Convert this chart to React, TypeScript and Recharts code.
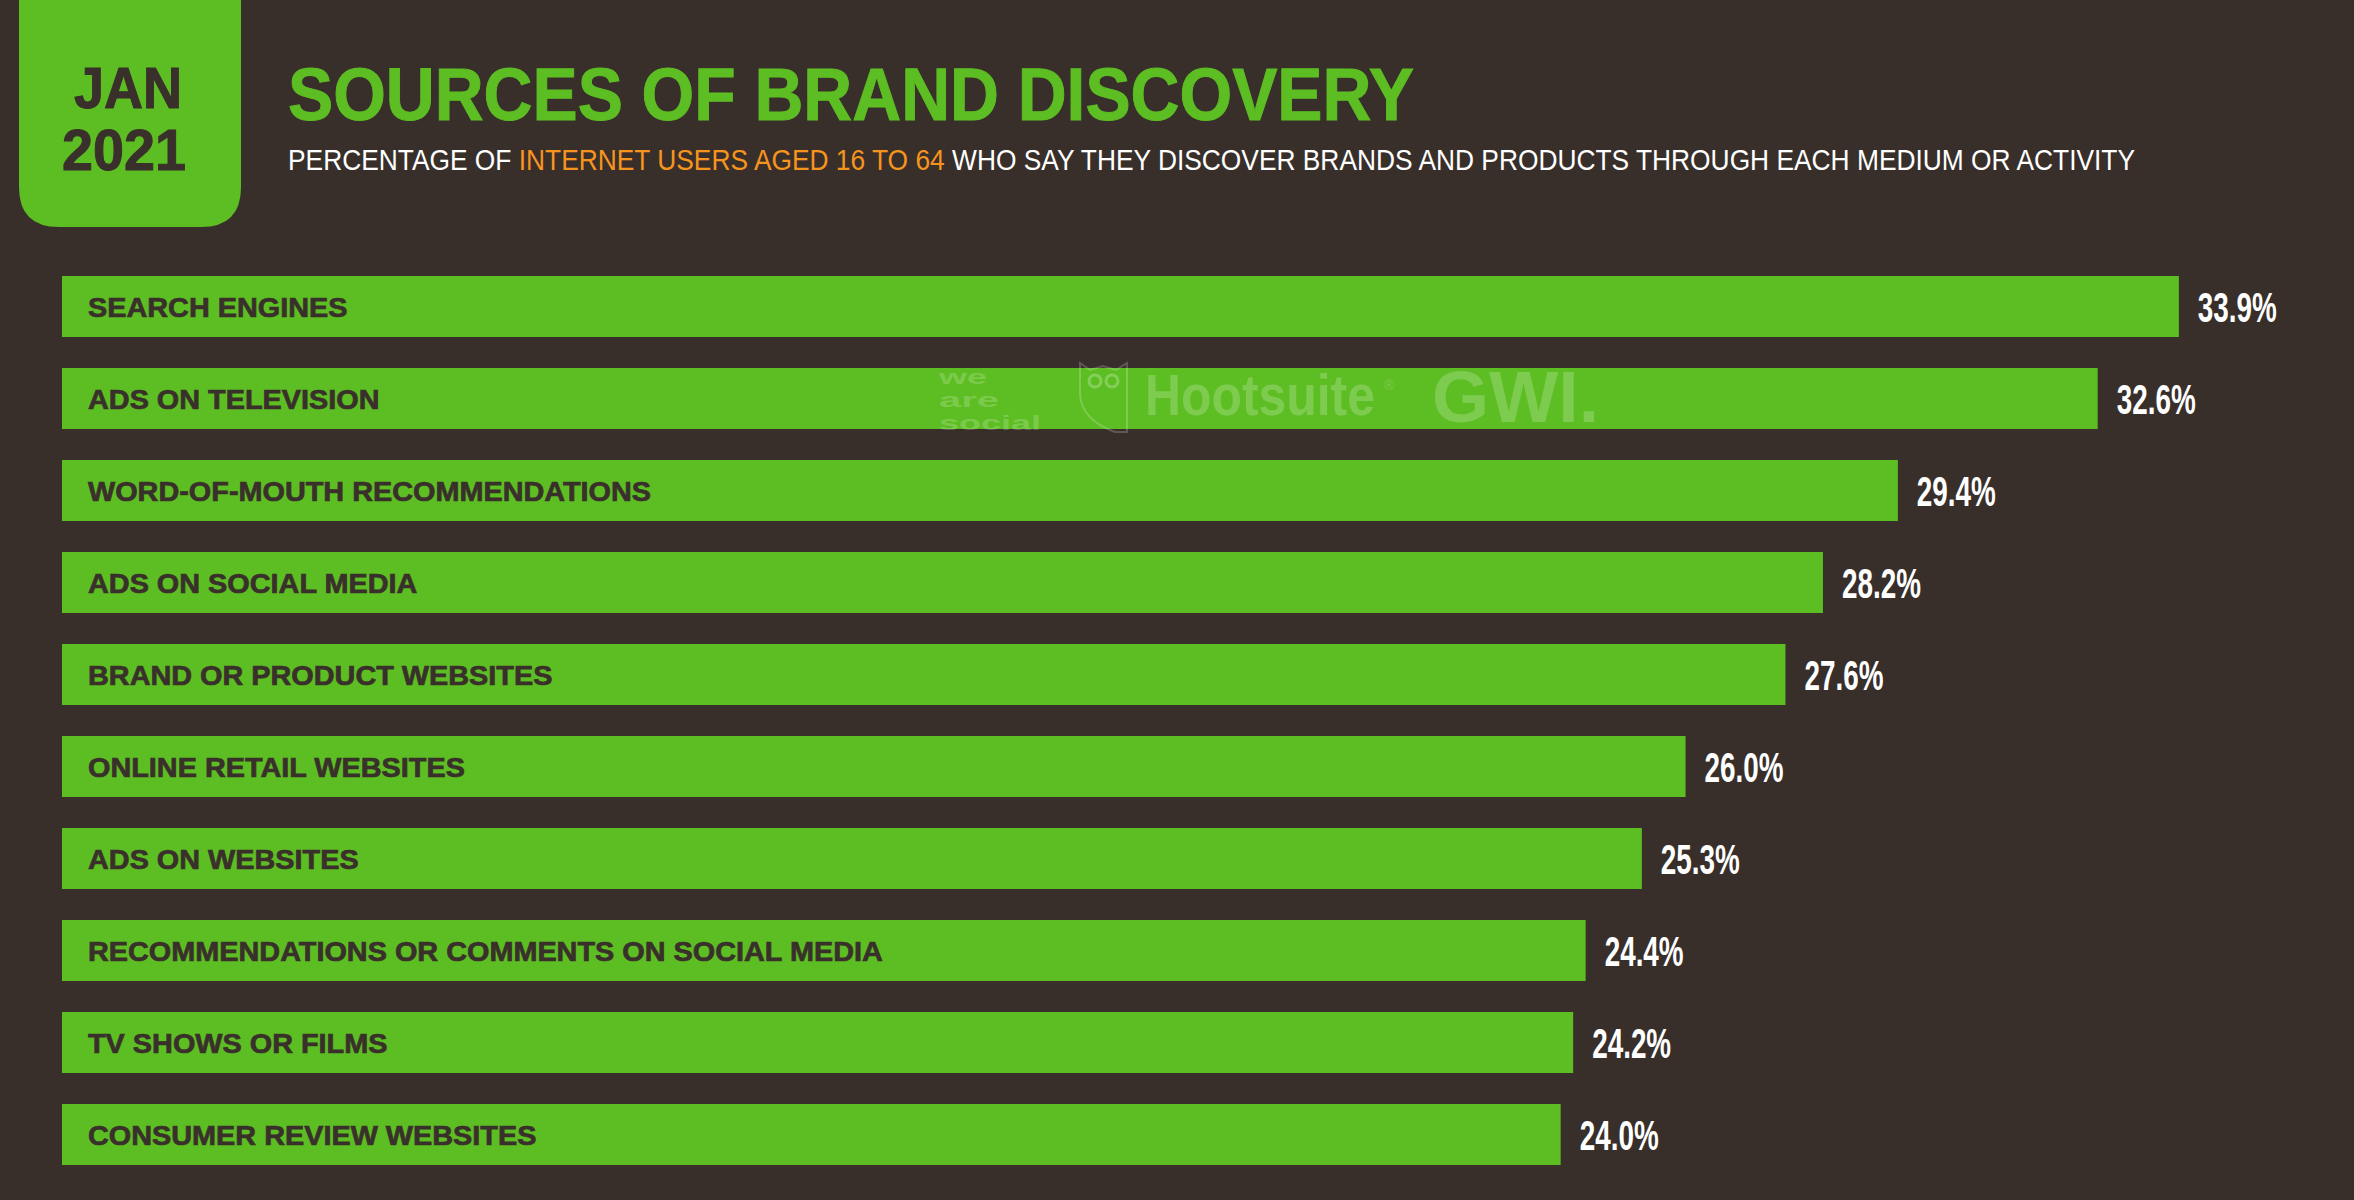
import React from 'react';
import { BarChart, Bar, XAxis, YAxis, LabelList } from 'recharts';

const categories = [
  'SEARCH ENGINES',
  'ADS ON TELEVISION',
  'WORD-OF-MOUTH RECOMMENDATIONS',
  'ADS ON SOCIAL MEDIA',
  'BRAND OR PRODUCT WEBSITES',
  'ONLINE RETAIL WEBSITES',
  'ADS ON WEBSITES',
  'RECOMMENDATIONS OR COMMENTS ON SOCIAL MEDIA',
  'TV SHOWS OR FILMS',
  'CONSUMER REVIEW WEBSITES',
];
const values = [33.9, 32.6, 29.4, 28.2, 27.6, 26.0, 25.3, 24.4, 24.2, 24.0];

const data = categories.map((name, i) => ({ name, value: values[i] }));

const BG = '#382f2b';
const GREEN = '#5dbe23';
const DARK = '#3a302b';
const ORANGE = '#f7941d';

const W = 2354;
const H = 1200;

const CategoryLabel = (props: any) => {
  const { x, y, height, value } = props;
  return (
    <text
      x={0}
      y={0}
      transform={`translate(${x + 26}, ${y + height / 2 + 10}) scale(1.03, 1)`}
      fill={DARK}
      stroke={DARK}
      strokeWidth={0.7}
      fontFamily="'Liberation Sans', Arial, sans-serif"
      fontWeight={700}
      fontSize={28}
    >
      {value}
    </text>
  );
};

const ValueLabel = (props: any) => {
  const { x, y, width, height, value } = props;
  return (
    <text
      x={x + width + 19}
      y={y + height / 2 + 15}
      fill="#ffffff"
      fontFamily="'Liberation Sans Narrow', 'Liberation Sans', sans-serif"
      fontWeight={700}
      fontSize={42}
      textLength={79}
      lengthAdjust="spacingAndGlyphs"
    >
      {Number(value).toFixed(1) + '%'}
    </text>
  );
};

function Header() {
  return (
    <svg
      width={W}
      height={H}
      style={{ position: 'absolute', top: 0, left: 0, pointerEvents: 'none' }}
    >
      <path
        d="M19 0 H241 V187 Q241 227 201 227 H59 Q19 227 19 187 Z"
        fill={GREEN}
      />
      <g fill={DARK} stroke={DARK} strokeWidth={1} fontFamily="'Liberation Sans', Arial, sans-serif" fontWeight={700} fontSize={57}>
        <text x={128} y={108} textAnchor="middle" textLength={108} lengthAdjust="spacingAndGlyphs">
          JAN
        </text>
        <text x={124} y={170} textAnchor="middle" textLength={124} lengthAdjust="spacingAndGlyphs">
          2021
        </text>
      </g>
      <text
        x={288}
        y={120}
        fill={GREEN}
        stroke={GREEN}
        strokeWidth={1}
        fontFamily="'Liberation Sans', Arial, sans-serif"
        fontWeight={700}
        fontSize={74}
        textLength={1126}
        lengthAdjust="spacingAndGlyphs"
      >
        SOURCES OF BRAND DISCOVERY
      </text>
      <text
        x={288}
        y={170}
        fill="#ffffff"
        fontFamily="'Liberation Sans Narrow', 'Liberation Sans', sans-serif"
        fontSize={29}
        textLength={1847}
        lengthAdjust="spacingAndGlyphs"
      >
        PERCENTAGE OF <tspan fill={ORANGE}>INTERNET USERS AGED 16 TO 64</tspan> WHO SAY THEY
        DISCOVER BRANDS AND PRODUCTS THROUGH EACH MEDIUM OR ACTIVITY
      </text>

      {/* faint watermark */}
      <g fill="#ffffff" fillOpacity={0.2} fontFamily="'Liberation Sans', Arial, sans-serif" fontWeight={700}>
        <text x={939} y={384} fontSize={21} textLength={48} lengthAdjust="spacingAndGlyphs">we</text>
        <text x={939} y={407} fontSize={21} textLength={60} lengthAdjust="spacingAndGlyphs">are</text>
        <text x={939} y={430} fontSize={21} textLength={102} lengthAdjust="spacingAndGlyphs">social</text>
        <path
          d="M1080 363 L1090 370 L1103 366 L1116 370 L1127 363 V432 L1115 432 Q1082 420 1080 395 Z"
          fill="none"
          stroke="#ffffff"
          strokeOpacity={0.2}
          strokeWidth={2}
        />
        <circle cx={1095} cy={381} r={6} fill="none" stroke="#ffffff" strokeOpacity={0.25} strokeWidth={3} />
        <circle cx={1112} cy={381} r={6} fill="none" stroke="#ffffff" strokeOpacity={0.25} strokeWidth={3} />
        <text x={0} y={0} transform="translate(1145, 415) scale(0.86, 1)" fontSize={58}>Hootsuite</text>
        <text x={1384} y={390} fontSize={14} fontWeight={400}>®</text>
        <text x={1432} y={422} fontSize={72} textLength={167} lengthAdjust="spacingAndGlyphs">GWI.</text>
      </g>
    </svg>
  );
}

export default function App() {
  return (
    <div
      style={{
        position: 'absolute',
        top: 0,
        left: 0,
        width: W,
        height: H,
        backgroundColor: BG,
        overflow: 'hidden',
      }}
    >
      <BarChart
        width={W}
        height={H}
        data={data}
        layout="vertical"
        margin={{ top: 260, right: 44, bottom: 20, left: 62 }}
      >
        <XAxis type="number" domain={[0, 36]} hide />
        <YAxis type="category" dataKey="name" hide />
        <Bar dataKey="value" fill={GREEN} barSize={61} isAnimationActive={false}>
          <LabelList dataKey="name" content={CategoryLabel} />
          <LabelList dataKey="value" content={ValueLabel} />
        </Bar>
      </BarChart>
      <Header />
    </div>
  );
}
